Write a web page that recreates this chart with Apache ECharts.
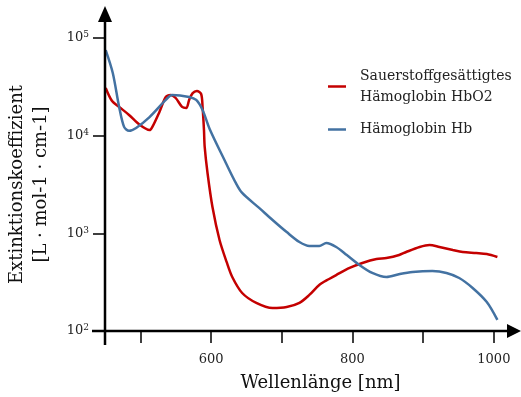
<!DOCTYPE html>
<html>
<head>
<meta charset="utf-8">
<title>Extinktionskoeffizient Hämoglobin</title>
<script src="https://cdn.jsdelivr.net/npm/echarts@6.0.0/dist/echarts.min.js"></script>
<style>
  html, body {
    margin: 0;
    padding: 0;
    background: #fff;
  }
  #chart {
    width: 521px;
    height: 397px;
  }
</style>
</head>
<body>
<div id="chart"></div>
<script>
// Werte (Wellenlänge in nm, Koeffizient in L/(mol·cm))
const hbO2Wavelengths = [451, 460, 470, 484, 499, 513, 517, 527, 536, 543, 550, 559, 565, 569, 574, 580, 586, 588, 590, 591, 595, 602, 612, 622, 630, 644, 664, 687, 707, 725, 739, 753, 767, 777, 796, 814, 834, 848, 866, 876, 895, 909, 923, 942, 956, 975, 990, 1005]
const hbO2Values = [30800, 22600, 19700, 16300, 12900, 11400, 12300, 17500, 24900, 26100, 24300, 19700, 19200, 23200, 27300, 28700, 26700, 19700, 11400, 7660, 4150, 1860, 855, 510, 357, 245, 194, 172, 176, 194, 234, 296, 341, 374, 442, 497, 546, 559, 600, 644, 725, 760, 725, 675, 644, 629, 614, 573]

const hbWavelengths = [451, 461, 470, 477, 484, 494, 513, 536, 545, 569, 579, 588, 598, 621, 635, 644, 668, 687, 707, 725, 739, 753, 763, 777, 792, 810, 828, 848, 867, 885, 913, 933, 951, 970, 990, 1005]
const hbValues = [75300, 43900, 19700, 12300, 11200, 12000, 15500, 23200, 26100, 24900, 23200, 18300, 11700, 5250, 3280, 2590, 1820, 1370, 1030, 815, 742, 742, 796, 725, 600, 474, 393, 357, 383, 402, 411, 393, 349, 276, 198, 130]

const xTicks = [500, 600, 700, 800, 900, 1000]
const xLabels = [600, 800, 1000]

const hbO2Name = 'Sauerstoffgesättigtes\nHämoglobin HbO2'
const hbName = 'Hämoglobin Hb'

const FONT = 'DejaVu Serif'

// Rand des Plotbereichs, daran werden die Pfeil-Achsen ausgerichtet
const grid = { left: 105, top: 38, right: 13, bottom: 66, outerBoundsMode: 'none', containLabel: false }
const W = 521
const H = 397
const x0 = grid.left
const y0 = H - grid.bottom
const xEnd = W - grid.right

function zip (xs, ys) {
  return xs.map((x, i) => [x, ys[i]])
}

const legendBase = {
  orient: 'vertical',
  left: 328,
  padding: 0,
  icon: 'rect',
  itemWidth: 18,
  itemHeight: 2.5
}

const chart = echarts.init(document.getElementById('chart'), null, { renderer: 'canvas' })

chart.setOption({
  animation: false,
  backgroundColor: '#fff',
  textStyle: {
    fontFamily: FONT,
    color: '#000'
  },
  grid: grid,

  // zwei Legenden, damit die Linie bei der zweizeiligen auf Höhe der ersten Zeile sitzt
  legend: [
    Object.assign({}, legendBase, {
      data: [hbO2Name],
      top: 55,
      textStyle: {
        fontFamily: FONT,
        fontSize: 14,
        color: '#222',
        lineHeight: 21,
        padding: [21, 0, 0, 9]
      }
    }),
    Object.assign({}, legendBase, {
      data: [hbName],
      top: 119,
      textStyle: {
        fontFamily: FONT,
        fontSize: 14,
        color: '#222',
        lineHeight: 21,
        padding: [0, 0, 0, 9]
      }
    })
  ],

  xAxis: {
    type: 'value',
    min: 450,
    max: 1020,
    name: 'Wellenlänge [nm]',
    nameLocation: 'middle',
    nameGap: 43,
    nameTextStyle: {
      fontFamily: FONT,
      fontSize: 18,
      color: '#111',
      padding: [0, 0, 0, 28]
    },
    axisLine: { show: false },
    axisTick: {
      show: true,
      length: 12,
      customValues: xTicks,
      lineStyle: { color: '#000', width: 1.5 }
    },
    axisLabel: {
      customValues: xLabels,
      margin: 22,
      fontFamily: FONT,
      fontSize: 13,
      color: '#222',
      formatter: function (v) {
        return String(v)
      }
    },
    splitLine: { show: false }
  },

  yAxis: {
    type: 'log',
    logBase: 10,
    min: 100,
    max: 100000,
    name: 'Extinktionskoeffizient\n[L · mol-1 · cm-1]',
    nameLocation: 'middle',
    nameGap: 52,
    nameTextStyle: {
      fontFamily: FONT,
      fontSize: 18,
      color: '#111',
      lineHeight: 24
    },
    axisLine: { show: false },
    axisTick: {
      show: true,
      length: 12,
      lineStyle: { color: '#000', width: 1.5 }
    },
    minorTick: { show: false },
    axisLabel: {
      margin: 16,
      fontFamily: FONT,
      fontSize: 13,
      color: '#222',
      formatter: function (v) {
        return '10{s|' + Math.round(Math.log10(v)) + '}'
      },
      rich: {
        s: {
          fontFamily: FONT,
          fontSize: 9,
          color: '#222',
          verticalAlign: 'top',
          padding: [0, 0, 6, 0]
        }
      }
    },
    splitLine: { show: false }
  },

  series: [
    {
      name: hbO2Name,
      type: 'line',
      data: zip(hbO2Wavelengths, hbO2Values),
      smooth: 0.3,
      showSymbol: false,
      symbol: 'none',
      lineStyle: { color: '#c40000', width: 2.5 },
      itemStyle: { color: '#c40000' }
    },
    {
      name: hbName,
      type: 'line',
      data: zip(hbWavelengths, hbValues),
      smooth: 0.3,
      showSymbol: false,
      symbol: 'none',
      lineStyle: { color: '#4372a2', width: 2.5 },
      itemStyle: { color: '#4372a2' }
    }
  ],

  // Achsen mit Pfeilspitzen, wie in der Vorlage leicht über den Ursprung hinaus
  graphic: [
    {
      type: 'line',
      shape: { x1: x0, y1: y0 + 14, x2: x0, y2: 20 },
      style: { stroke: '#000', lineWidth: 2.5 },
      z: 10
    },
    {
      type: 'polygon',
      shape: { points: [[x0 - 7, 22], [x0 + 7, 22], [x0, 6]] },
      style: { fill: '#000' },
      z: 10
    },
    {
      type: 'line',
      shape: { x1: x0 - 13, y1: y0, x2: xEnd + 2, y2: y0 },
      style: { stroke: '#000', lineWidth: 2.5 },
      z: 10
    },
    {
      type: 'polygon',
      shape: { points: [[xEnd - 1, y0 - 7], [xEnd - 1, y0 + 7], [W, y0]] },
      style: { fill: '#000' },
      z: 10
    }
  ]
})
</script>
</body>
</html>
